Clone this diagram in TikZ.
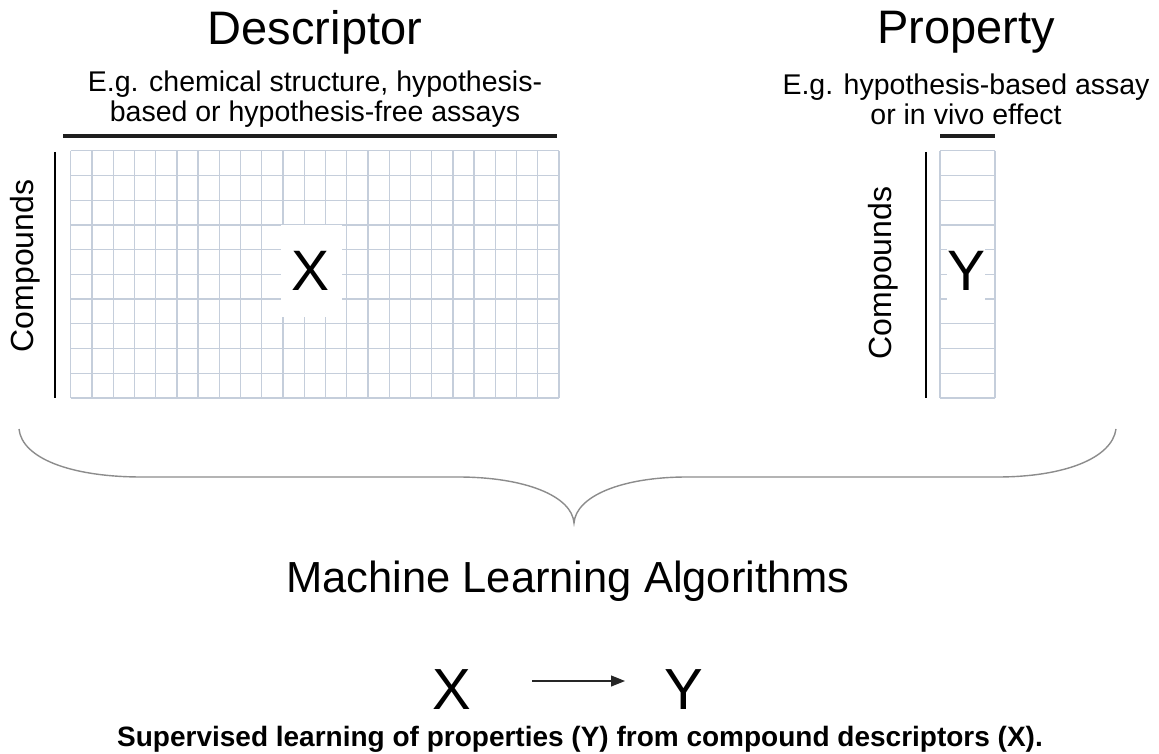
\documentclass[tikz,border=0pt]{standalone}
\usepackage{fontspec}
\setmainfont{Liberation Sans}
\usetikzlibrary{arrows.meta}
\definecolor{gridc}{HTML}{C5CEDB}
\definecolor{barc}{HTML}{1E1E1E}
\definecolor{bracec}{HTML}{8C8C8C}
\begin{document}
\begin{tikzpicture}[x=1pt,y=-1pt,
  gridline/.style={draw=gridc,line width=1.3pt},
  bar/.style={draw=barc,line width=3.2pt},
  vbar/.style={draw=black,line width=2.6pt},
  title/.style={font=\fontsize{47}{50}\selectfont,inner sep=0pt},
  subtitle/.style={font=\fontsize{28.5}{30}\selectfont,align=center,inner sep=0pt},
  sidelabel/.style={font=\fontsize{32}{34}\selectfont,rotate=90,inner sep=0pt},
  bigletter/.style={font=\fontsize{57}{57}\selectfont,fill=white,inner sep=0pt},
  bracepath/.style={draw=bracec,line width=1.4pt},
  arr/.style={draw=black!85,line width=1.1pt,-{Triangle[length=14pt,width=11pt]}}
]
\useasboundingbox (0,0) rectangle (1159,754);
\fill[white] (0,0) rectangle (1159,754);

% ---- Descriptor matrix ----
\foreach \i in {0,...,23}
  \draw[gridline] ({70.7+\i*488.3/23},150.7) -- ({70.7+\i*488.3/23},398);
\foreach \j in {0,...,10}
  \draw[gridline] (70.7,{150.7+\j*24.73}) -- (559,{150.7+\j*24.73});
\node[bigletter,minimum width=61pt,minimum height=91pt] (X) at (311,271) {X};
\draw[bar] (63,136) -- (557,136);
\draw[vbar] (55,152) -- (55,398);
\node[title] (desc) at (315,32) {Descriptor};
\node[subtitle] (descsub) at (315,99) {E.g. chemical structure, hypothesis-\\based or hypothesis-free assays};
\node[sidelabel] (cmp1) at (25,266) {Compounds};

% ---- Property matrix ----
\foreach \i in {0,1}
  \draw[gridline] ({940+\i*55},150.7) -- ({940+\i*55},398);
\foreach \j in {0,...,10}
  \draw[gridline] (940,{150.7+\j*24.73}) -- (995,{150.7+\j*24.73});
\node[bigletter,minimum width=38pt,minimum height=62pt] (Y) at (966,271) {Y};
\draw[bar] (940,136) -- (995,136);
\draw[vbar] (926,152) -- (926,398);
\node[title] (prop) at (966,32) {Property};
\node[subtitle] (propsub) at (966,99) {E.g. hypothesis-based assay\\or in vivo effect};
\node[sidelabel] (cmp2) at (883,273) {Compounds};

% ---- Brace ----
\draw[bracepath] (19,429) .. controls (22,458) and (70,477) .. (142,477)
  -- (458,477) .. controls (525,477) and (572,496) .. (574,523)
  .. controls (576,496) and (622,477) .. (687,477)
  -- (997,477) .. controls (1065,477) and (1112,458) .. (1116,429);

% ---- Bottom ----
\node[font=\fontsize{43.5}{46}\selectfont,inner sep=0pt,anchor=base] (ml) at (568,592) {Machine Learning Algorithms};
\node[font=\fontsize{58}{58}\selectfont,inner sep=0pt] (xa) at (452,690) {X};
\node[font=\fontsize{58}{58}\selectfont,inner sep=0pt] (ya) at (684,690) {Y};
\draw[arr,shorten <=80pt,shorten >=59pt] ([yshift=9pt]xa.center) -- ([yshift=9pt]ya.center);
\node[font=\bfseries\fontsize{28}{30}\selectfont,inner sep=0pt,anchor=base] (cap) at (580,746) {Supervised learning of properties (Y) from compound descriptors (X).};
\end{tikzpicture}
\end{document}
